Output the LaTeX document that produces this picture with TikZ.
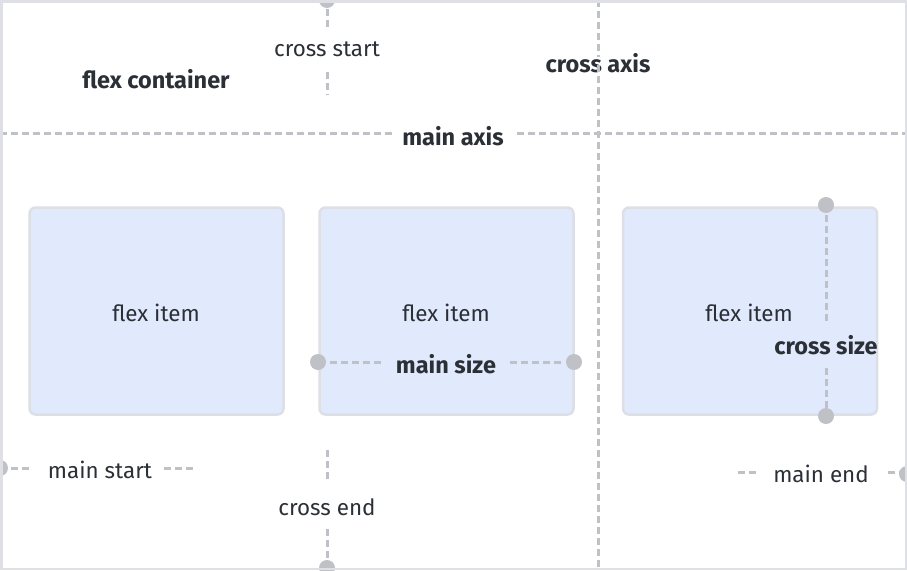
\documentclass[tikz,border=0pt]{standalone}
\usepackage{fontspec}
\setmainfont{Fira Sans}
\begin{document}
\begin{tikzpicture}[x=1pt,y=-1pt,
  txt/.style={text=textc,font=\fontsize{22.4}{26}\selectfont,inner sep=0pt},
  btxt/.style={text=textc,font=\fontsize{23.5}{27}\selectfont\bfseries,inner sep=0pt},
  dsh/.style={draw=dashc,line width=3pt,dash pattern=on 7pt off 4pt},
  dot/.style={circle,fill=dashc,minimum size=16pt,inner sep=0pt},
  item/.style={draw=boxc,fill=itemc,line width=2.5pt,rounded corners=6pt,minimum width=254pt,minimum height=207pt,inner sep=0pt}
]
\definecolor{textc}{HTML}{2B2F36}
\definecolor{dashc}{HTML}{BFC1C6}
\definecolor{boxc}{HTML}{DCDFE6}
\definecolor{itemc}{HTML}{E1E9FC}
\definecolor{framec}{HTML}{DFE0E5}
\useasboundingbox (0,0) rectangle (907,570);
\begin{scope}
\clip (0,0) rectangle (907,570);
% items
\node[item] (i1) at (156.5,311) {};
\node[item] (i2) at (446.5,311) {};
\node[item] (i3) at (750,311) {};
\node[txt] (l1) at (156,313) {flex item};
\node[txt] (l2) at (446,313) {flex item};
\node[txt] (l3) at (749,313) {flex item};
% axes
\coordinate (maL) at (0,133);
\coordinate (maR) at (907,133);
\node[btxt] (ma) at (453,136) {main axis};
\draw[dsh] (maL) -- ([xshift=-8pt]ma.west |- maL);
\draw[dsh] ([xshift=13pt]ma.east |- maR) -- (maR);
\coordinate (caT) at (598,0);
\coordinate (caB) at (598,570);
\node[btxt] (ca) at (598,63) {cross axis};
\draw[dsh] (caT) -- ([yshift=-4pt]ca.north -| caT);
\draw[dsh] ([yshift=8pt]ca.south -| caB) -- (caB);
\node[btxt] (fc) at (156,79) {flex container};
% cross start
\node[dot] (csd) at (327,0) {};
\node[txt] (cs) at (327,49) {cross start};
\coordinate (cs1) at (327,9);
\coordinate (cs2) at (327,28);
\coordinate (cs3) at (327,72);
\coordinate (cs4) at (327,95);
\draw[dsh] (cs1) -- (cs2);
\draw[dsh] (cs3) -- (cs4);
% cross end
\node[dot] (ced) at (327,568) {};
\node[txt] (ce) at (327,507) {cross end};
\coordinate (ce1) at (327,450);
\coordinate (ce2) at (327,481);
\coordinate (ce3) at (327,529);
\coordinate (ce4) at (327,560);
\draw[dsh] (ce1) -- (ce2);
\draw[dsh] (ce3) -- (ce4);
% main start
\node[dot] (msd) at (0,468) {};
\node[txt] (ms) at (100,470) {main start};
\coordinate (ms1) at (11,468);
\coordinate (ms2) at (32,468);
\coordinate (ms3) at (164,468);
\coordinate (ms4) at (195,468);
\draw[dsh] (ms1) -- (ms2);
\draw[dsh] (ms3) -- (ms4);
% main end
\node[dot] (med) at (907,474) {};
\node[txt] (me) at (821,474) {main end};
\coordinate (me1) at (738,472);
\coordinate (me2) at (758,472);
\coordinate (me3) at (888,472);
\coordinate (me4) at (900,472);
\draw[dsh] (me1) -- (me2);
\draw[dsh] (me3) -- (me4);
% main size
\node[dot] (msl) at (318,362) {};
\node[dot] (msr) at (574,362) {};
\node[btxt] (msz) at (446,364) {main size};
\coordinate (mz1) at (330,362);
\coordinate (mz2) at (384,362);
\coordinate (mz3) at (510,362);
\coordinate (mz4) at (564,362);
\draw[dsh] (mz1) -- (mz2);
\draw[dsh] (mz3) -- (mz4);
% cross size
\node[dot] (cst) at (826,205) {};
\node[dot] (csb) at (826,416) {};
\node[btxt] (csz) at (826,345) {cross size};
\coordinate (cz1) at (826,215);
\coordinate (cz2) at (826,321);
\coordinate (cz3) at (826,368);
\coordinate (cz4) at (826,408);
\draw[dsh] (cz1) -- (cz2);
\draw[dsh] (cz3) -- (cz4);
\end{scope}
% frame
\draw[framec,line width=2.5pt] (1.25,1.25) rectangle (905.75,568.75);
\end{tikzpicture}
\end{document}
